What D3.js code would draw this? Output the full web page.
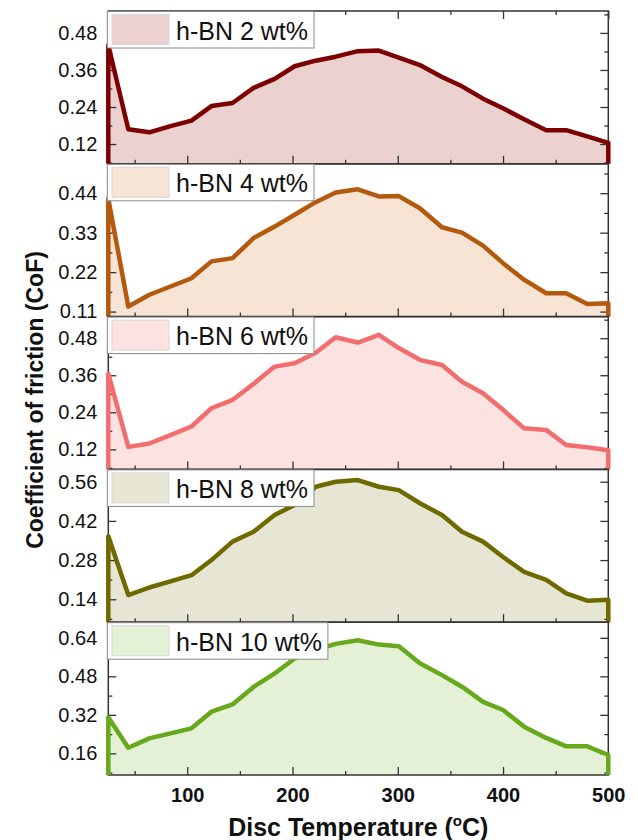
<!DOCTYPE html>
<html><head><meta charset="utf-8">
<script src="https://cdn.jsdelivr.net/npm/d3@7"></script>
<style>body{margin:0;background:#fff} svg{display:block} text{font-family:Arial,"Liberation Sans",sans-serif}</style>
</head><body><svg id="c" width="638" height="840"></svg>
<script>
// ---- data ----
const temps = [25, 44, 64, 84, 104, 123, 143, 163, 183, 202, 222, 241, 262, 282, 301, 321, 342, 361, 381, 400, 420, 441, 460, 480, 500];
const cof2  = [0.44, 0.168, 0.158, 0.178, 0.196, 0.243, 0.253, 0.302, 0.331, 0.372, 0.390, 0.403, 0.421, 0.423, 0.400, 0.376, 0.337, 0.307, 0.267, 0.236, 0.200, 0.165, 0.165, 0.145, 0.124];
const cof4  = [0.425, 0.124, 0.157, 0.180, 0.203, 0.250, 0.259, 0.315, 0.347, 0.380, 0.415, 0.442, 0.451, 0.431, 0.432, 0.398, 0.345, 0.330, 0.294, 0.245, 0.199, 0.161, 0.161, 0.131, 0.133];
const cof6  = [0.365, 0.128, 0.139, 0.166, 0.194, 0.253, 0.280, 0.332, 0.388, 0.399, 0.433, 0.483, 0.466, 0.491, 0.448, 0.410, 0.393, 0.339, 0.302, 0.248, 0.188, 0.183, 0.134, 0.127, 0.117];
const cof8  = [0.365, 0.155, 0.182, 0.204, 0.226, 0.280, 0.346, 0.381, 0.441, 0.477, 0.542, 0.560, 0.566, 0.542, 0.530, 0.483, 0.441, 0.381, 0.346, 0.291, 0.238, 0.209, 0.161, 0.135, 0.138];
const cof10 = [0.310, 0.183, 0.222, 0.243, 0.264, 0.333, 0.363, 0.436, 0.492, 0.554, 0.590, 0.615, 0.630, 0.612, 0.605, 0.534, 0.485, 0.437, 0.374, 0.340, 0.271, 0.224, 0.189, 0.189, 0.153];
const labels = ["h-BN 2 wt%", "h-BN 4 wt%", "h-BN 6 wt%", "h-BN 8 wt%", "h-BN 10 wt%"];
const yTicks = [[0.12, 0.24, 0.36, 0.48], [0.11, 0.22, 0.33, 0.44], [0.12, 0.24, 0.36, 0.48], [0.14, 0.28, 0.42, 0.56], [0.16, 0.32, 0.48, 0.64]];
const yDomains = [[0.056, 0.551], [0.096, 0.522], [0.055, 0.550], [0.058, 0.604], [0.070, 0.705]];
const xDomain = [25, 500];
const xTicks = [100, 200, 300, 400, 500];
const xMinor = [50, 150, 250, 350, 450];
const lineColors = ["#7d0000", "#b35a0f", "#f26d6d", "#6e6a00", "#67a81c"];
const fillColors = ["#ecd1d1", "#f7e4d4", "#fde2e2", "#e7e6d4", "#e5f1d6"];
const series = [cof2, cof4, cof6, cof8, cof10];

// ---- layout ----
const svg = d3.select("#c");
const L = 108.3, R = 608.3, T = 11, B = 775;
const ph = (B - T) / 5;
const x = d3.scaleLinear().domain(xDomain).range([L, R]);
const axisColor = "#333";

function styleAxis(g) {
  g.select(".domain").remove();
  g.selectAll(".tick line").attr("stroke", axisColor).attr("stroke-width", 1.3);
}

series.forEach((vals, i) => {
  const y0 = T + i * ph, y1 = y0 + ph;
  const dom = yDomains[i];
  const y = d3.scaleLinear().domain(dom).range([y1, y0]);
  const pts = temps.map((t, k) => ({t, v: vals[k]}));
  const g = svg.append("g");

  // area fill
  g.append("path").datum(pts)
    .attr("d", d3.area().x(d => x(d.t)).y0(y(dom[0])).y1(d => y(d.v)))
    .attr("fill", fillColors[i]);

  // ticks
  const step = yTicks[i][1] - yTicks[i][0];
  const minorY = d3.range(Math.ceil(dom[0] / (step / 2)), Math.floor(dom[1] / (step / 2)) + 1)
    .map(k => +(k * step / 2).toFixed(4)).filter(v => !yTicks[i].some(m => Math.abs(m - v) < 1e-6));

  const gl = g.append("g").attr("transform", `translate(${L},0)`)
    .call(d3.axisLeft(y).tickValues(yTicks[i]).tickSize(-8).tickPadding(11).tickFormat(d3.format(".2f")));
  styleAxis(gl);
  gl.selectAll(".tick text").attr("font-size", 20).attr("fill", "#111").attr("font-family", "Arial, 'Liberation Sans', sans-serif");
  styleAxis(g.append("g").attr("transform", `translate(${L},0)`).call(d3.axisLeft(y).tickValues(minorY).tickSize(-4).tickFormat("")));
  styleAxis(g.append("g").attr("transform", `translate(${R},0)`).call(d3.axisRight(y).tickValues(yTicks[i]).tickSize(-8).tickFormat("")));
  styleAxis(g.append("g").attr("transform", `translate(${R},0)`).call(d3.axisRight(y).tickValues(minorY).tickSize(-4).tickFormat("")));

  const gb = g.append("g").attr("transform", `translate(0,${y1})`)
    .call(d3.axisBottom(x).tickValues(xTicks).tickSize(-8).tickPadding(13).tickFormat(i === 4 ? d3.format("d") : ""));
  styleAxis(gb);
  gb.selectAll(".tick text").attr("font-size", 20).attr("font-weight", "bold").attr("fill", "#111").attr("font-family", "Arial, 'Liberation Sans', sans-serif");
  styleAxis(g.append("g").attr("transform", `translate(0,${y1})`).call(d3.axisBottom(x).tickValues(xMinor).tickSize(-4).tickFormat("")));
  if (i === 0) {
    styleAxis(g.append("g").attr("transform", `translate(0,${y0})`).call(d3.axisTop(x).tickValues(xTicks).tickSize(-8).tickFormat("")));
    styleAxis(g.append("g").attr("transform", `translate(0,${y0})`).call(d3.axisTop(x).tickValues(xMinor).tickSize(-4).tickFormat("")));
  }

  // frame
  g.append("rect").attr("x", L).attr("y", y0).attr("width", R - L).attr("height", ph)
    .attr("fill", "none").attr("stroke", axisColor).attr("stroke-width", 1.5);

  // line (with vertical edges down to baseline)
  const linePts = [{t: xDomain[0], v: dom[0]}, ...pts, {t: xDomain[1], v: dom[0]}];
  g.append("path").datum(linePts)
    .attr("d", d3.line().x(d => x(d.t)).y(d => y(d.v)))
    .attr("fill", "none").attr("stroke", lineColors[i]).attr("stroke-width", 4.5)
    .attr("stroke-linejoin", "round");

  // legend
  const lg = g.append("g");
  const box = lg.append("rect").attr("x", L - 1).attr("y", y0 + 0.5).attr("height", 36.5)
    .attr("fill", "#fff").attr("stroke", "#8a8a8a").attr("stroke-width", 1);
  lg.append("rect").attr("x", 112).attr("y", y0 + 3.5).attr("width", 57).attr("height", 30)
    .attr("fill", fillColors[i]).attr("stroke", "#d8d8d8").attr("stroke-width", 1);
  const tx = lg.append("text").attr("x", 176).attr("y", y0 + 28.5).attr("font-size", 25)
    .attr("fill", "#111").text(labels[i]);
  const tw = tx.node().getComputedTextLength();
  box.attr("width", 176 + tw + 6 - (L - 1));
});

// axis titles
const xt = svg.append("text").attr("x", (L + R) / 2).attr("y", 836).attr("text-anchor", "middle")
  .attr("font-size", 25).attr("font-weight", "bold").attr("fill", "#111");
xt.append("tspan").text("Disc Temperature (");
xt.append("tspan").attr("font-size", 15).attr("dy", -10).text("o");
xt.append("tspan").attr("dy", 10).text("C)");

svg.append("text").attr("transform", `translate(43,400) rotate(-90)`)
  .attr("text-anchor", "middle").attr("font-size", 23).attr("font-weight", "bold").attr("fill", "#111")
  .text("Coefficient of friction (CoF)");
</script></body></html>
